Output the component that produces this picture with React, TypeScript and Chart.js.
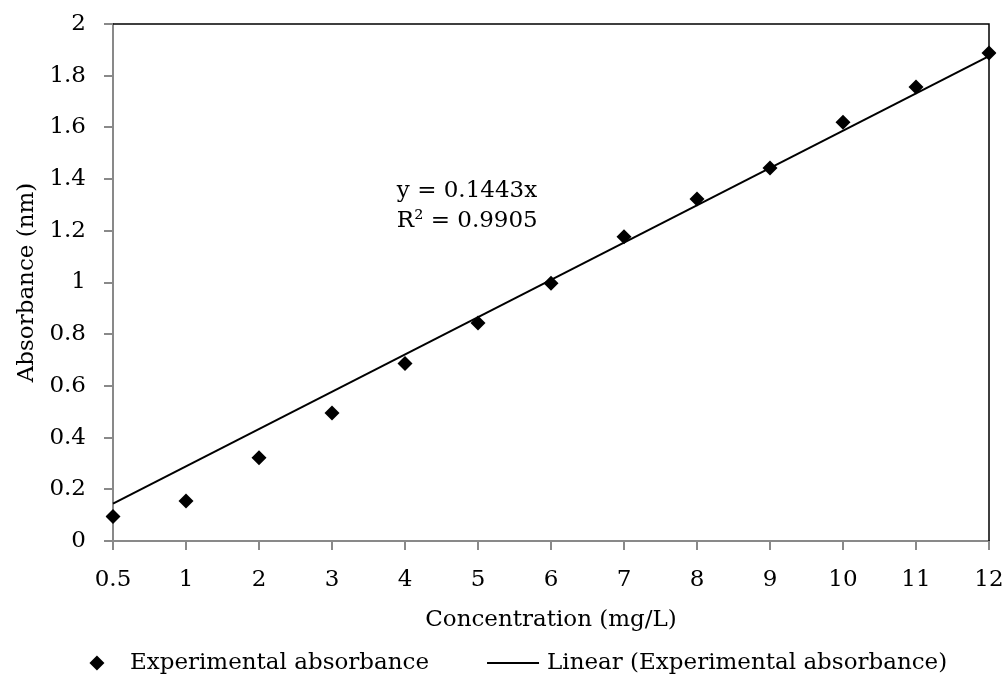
import React, { useEffect, useRef } from "react";
import { Chart, registerables } from "chart.js";

Chart.register(...registerables);

const CATEGORIES = ["0.5", "1", "2", "3", "4", "5", "6", "7", "8", "9", "10", "11", "12"];
const ABSORBANCE = [0.095, 0.155, 0.322, 0.495, 0.687, 0.843, 0.997, 1.177, 1.323, 1.443, 1.62, 1.756, 1.888];
const TREND_ENDS = [0.1443, 1.876];
const EQUATION_LINES = ["y = 0.1443x", "R\u00B2 = 0.9905"];
const LEGEND_LABELS = ["Experimental absorbance", "Linear (Experimental absorbance)"];
const Y_MIN = 0;
const Y_MAX = 2;
const Y_STEP = 0.2;

const FONT = "'DejaVu Serif', 'Liberation Serif', serif";
const FS = 23;
const GRAY = "#898989";

export default function App() {
  const ref = useRef<HTMLCanvasElement | null>(null);

  useEffect(() => {
    if (!ref.current) return;
    const trend = CATEGORIES.map((_, i) =>
      i === 0 ? TREND_ENDS[0] : i === CATEGORIES.length - 1 ? TREND_ENDS[1] : null
    );

    const framePlugin = {
      id: "frame",
      beforeDatasetsDraw(chart: any) {
        const { ctx, chartArea } = chart;
        ctx.save();
        ctx.strokeStyle = "#000";
        ctx.lineWidth = 1.5;
        ctx.beginPath();
        ctx.moveTo(chartArea.left, chartArea.top);
        ctx.lineTo(chartArea.right, chartArea.top);
        ctx.lineTo(chartArea.right, chartArea.bottom);
        ctx.stroke();
        ctx.restore();
      },
      afterDraw(chart: any) {
        const { ctx, chartArea, scales } = chart;
        ctx.save();
        ctx.font = `${FS}px ${FONT}`;
        ctx.fillStyle = "#000";
        ctx.textBaseline = "middle";
        ctx.textAlign = "left";
        // equation label
        const ex = chartArea.left + (chartArea.right - chartArea.left) * 0.324;
        ctx.fillText(EQUATION_LINES[0], ex, scales.y.getPixelForValue(1.354));
        ctx.fillText(EQUATION_LINES[1], ex, scales.y.getPixelForValue(1.238));

        // legend
        const ly = chart.height - 14;
        const diamondW = 16;
        const gap1 = 25;
        const gap2 = 58;
        const lineW = 52;
        const gap3 = 8;
        const t1 = ctx.measureText(LEGEND_LABELS[0]).width;
        const t2 = ctx.measureText(LEGEND_LABELS[1]).width;
        const total = diamondW + gap1 + t1 + gap2 + lineW + gap3 + t2;
        let x = chart.width * 0.5165 - total / 2;
        const r = 7.5;
        const cx = x + diamondW / 2;
        ctx.beginPath();
        ctx.moveTo(cx - r, ly);
        ctx.lineTo(cx, ly - r);
        ctx.lineTo(cx + r, ly);
        ctx.lineTo(cx, ly + r);
        ctx.closePath();
        ctx.fill();
        x += diamondW + gap1;
        ctx.fillText(LEGEND_LABELS[0], x, ly);
        x += t1 + gap2;
        ctx.strokeStyle = "#000";
        ctx.lineWidth = 2;
        ctx.beginPath();
        ctx.moveTo(x, ly);
        ctx.lineTo(x + lineW, ly);
        ctx.stroke();
        x += lineW + gap3;
        ctx.fillText(LEGEND_LABELS[1], x, ly);
        ctx.restore();
      },
    };

    const chart = new Chart(ref.current, {
      type: "line",
      data: {
        labels: CATEGORIES,
        datasets: [
          {
            label: LEGEND_LABELS[0],
            data: ABSORBANCE,
            showLine: false,
            pointStyle: "rectRot",
            pointRadius: 7.5,
            pointBorderWidth: 0,
            pointBackgroundColor: "#000",
            pointBorderColor: "#000",
            backgroundColor: "#000",
            borderColor: "#000",
          },
          {
            label: LEGEND_LABELS[1],
            data: trend,
            spanGaps: true,
            borderColor: "#000",
            borderWidth: 2,
            pointRadius: 0,
            fill: false,
          },
        ],
      },
      options: {
        responsive: false,
        animation: false,
        events: [],
        layout: { padding: { top: 24, right: 14, left: 0, bottom: 43.2 } },
        plugins: {
          legend: { display: false },
          tooltip: { enabled: false },
        },
        scales: {
          x: {
            type: "category",
            offset: false,
            afterFit: (s: any) => {
              s.height = 92.8;
              s.paddingLeft = 0;
              s.paddingRight = 0;
              s.paddingTop = 0;
              s.paddingBottom = 0;
            },
            grid: {
              drawOnChartArea: false,
              drawTicks: true,
              tickLength: 9,
              color: GRAY,
              lineWidth: 2,
            },
            border: { color: GRAY, width: 2 },
            ticks: {
              color: "#000",
              font: { family: FONT, size: FS },
              padding: 16,
              maxRotation: 0,
              autoSkip: false,
            },
            title: {
              display: true,
              text: "Concentration (mg/L)",
              color: "#000",
              font: { family: FONT, size: FS },
              padding: { top: 0, bottom: 0 },
            },
          },
          y: {
            min: Y_MIN,
            max: Y_MAX,
            afterFit: (s: any) => {
              s.width = 113;
              s.paddingLeft = 0;
              s.paddingRight = 0;
              s.paddingTop = 0;
              s.paddingBottom = 0;
            },
            grid: {
              drawOnChartArea: false,
              drawTicks: true,
              tickLength: 9,
              color: GRAY,
              lineWidth: 2,
            },
            border: { color: GRAY, width: 2 },
            ticks: {
              stepSize: Y_STEP,
              color: "#000",
              font: { family: FONT, size: FS },
              padding: 18,
              callback: (v: any) => String(Number(Number(v).toFixed(1))),
            },
            title: {
              display: true,
              text: "Absorbance (nm)",
              color: "#000",
              font: { family: FONT, size: FS },
              padding: { top: 13, bottom: 0 },
            },
          },
        },
      },
      plugins: [framePlugin],
    });
    return () => chart.destroy();
  }, []);

  return (
    <div style={{ position: "fixed", left: 0, top: 0, width: 1003, height: 677, background: "#fff" }}>
      <canvas ref={ref} width={1003} height={677} style={{ display: "block" }} />
    </div>
  );
}
